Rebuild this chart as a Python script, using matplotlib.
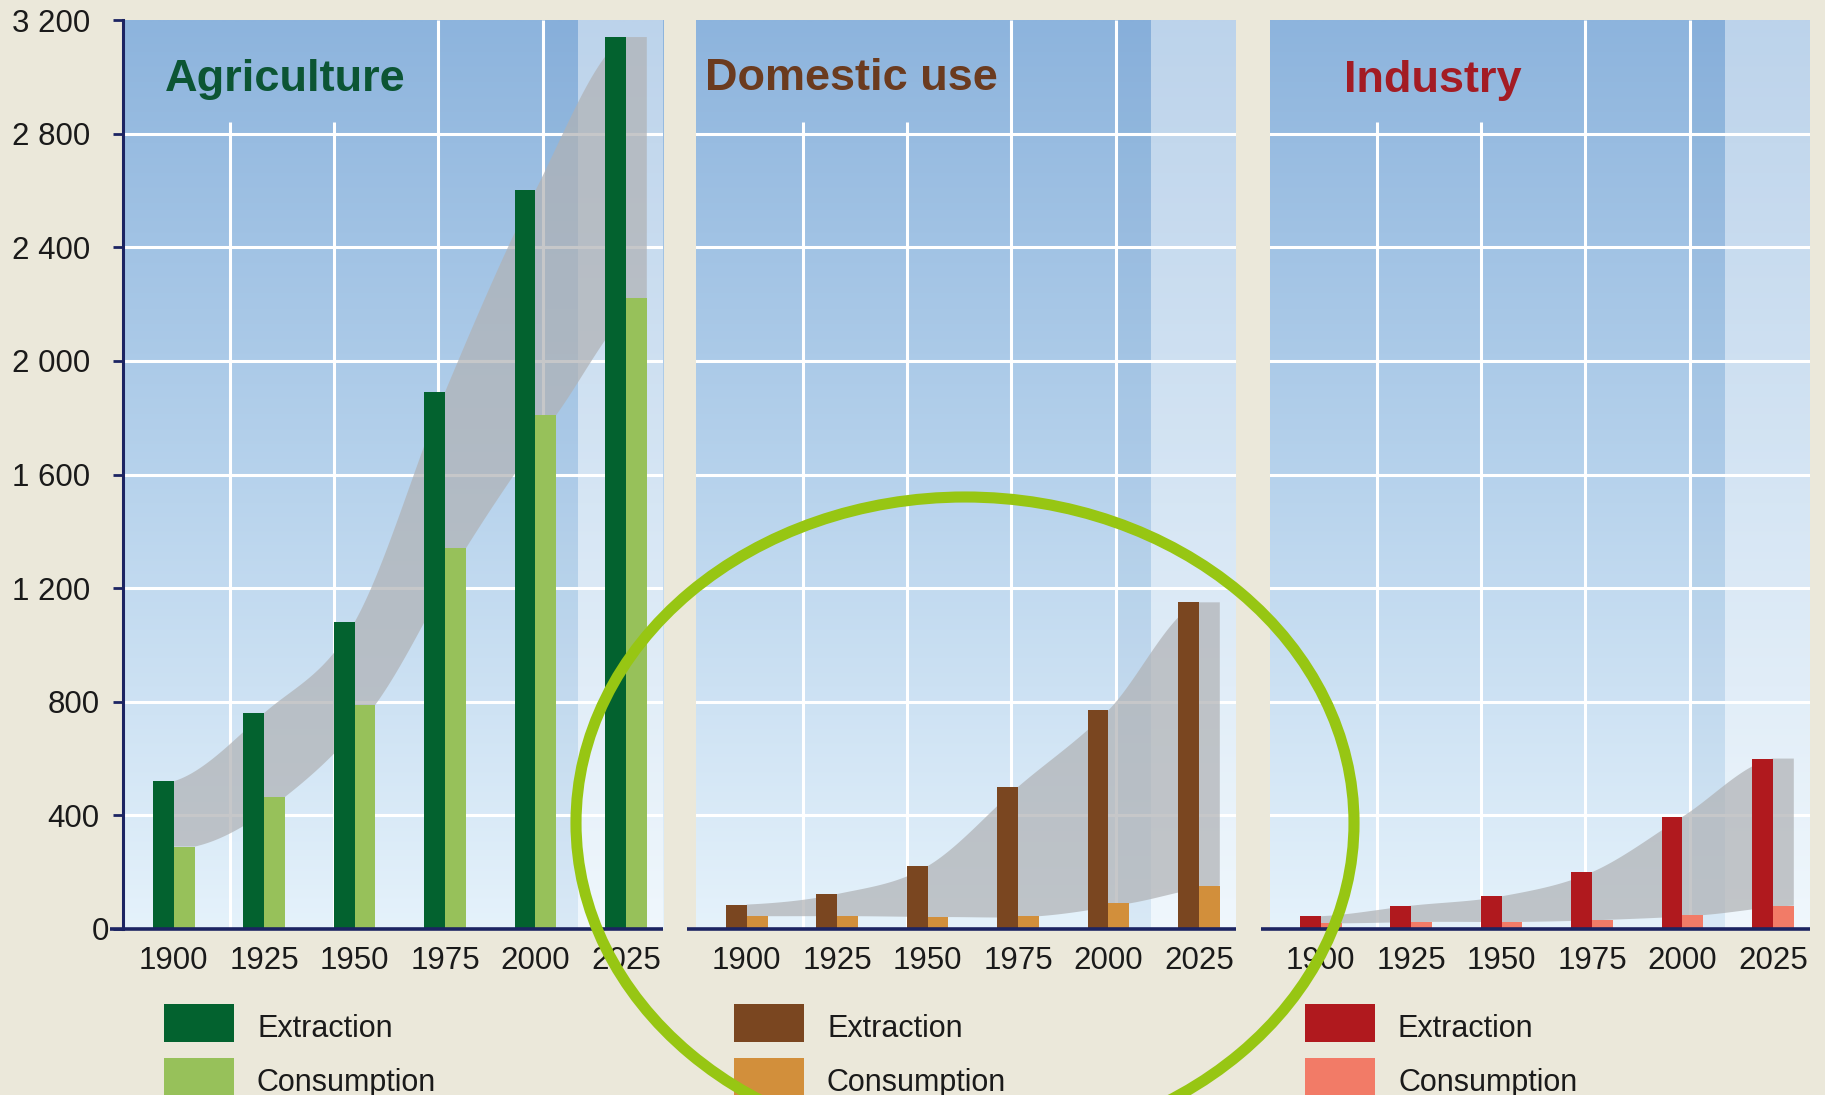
import numpy as np
import matplotlib.pyplot as plt
import matplotlib.transforms as mtransforms
from matplotlib.patches import Rectangle, Ellipse

plt.rcParams['font.family'] = ['Liberation Sans', 'DejaVu Sans']

years = ['1900', '1925', '1950', '1975', '2000', '2025']

agri_extraction = [520, 760, 1080, 1890, 2600, 3140]
agri_consumption = [290, 465, 790, 1340, 1810, 2220]
dom_extraction = [86, 123, 221, 500, 770, 1150]
dom_consumption = [45, 45, 42, 45, 90, 152]
ind_extraction = [45, 82, 115, 200, 395, 600]
ind_consumption = [20, 25, 25, 33, 49, 82]

panel_titles = ['Agriculture', 'Domestic use', 'Industry']
legend_labels = ['Extraction', 'Consumption']

W, H = 1825, 1095
NAVY = '#1c2462'
BAR_W = 0.231
XMIN, XMAX = -0.56, 5.41
YMAX = 3200


def fx(px):
    return px / W


def fy(py):
    return 1 - py / H


def smooth_edge(xk, yk, n=300):
    # Catmull-Rom style curve through the bar tops, eased at both ends
    xk = np.asarray(xk, float)
    yk = np.asarray(yk, float)
    h = np.diff(xk)
    d = np.diff(yk) / h
    m = np.zeros_like(yk)
    m[1:-1] = (yk[2:] - yk[:-2]) / (xk[2:] - xk[:-2])
    m[0] = 0.4 * d[0]
    m[-1] = 0.3 * d[-1]
    xs = np.linspace(xk[0], xk[-1], n)
    idx = np.clip(np.searchsorted(xk, xs) - 1, 0, len(h) - 1)
    t = (xs - xk[idx]) / h[idx]
    h00 = 2 * t**3 - 3 * t**2 + 1
    h10 = t**3 - 2 * t**2 + t
    h01 = -2 * t**3 + 3 * t**2
    h11 = t**3 - t**2
    ys = h00 * yk[idx] + h10 * h[idx] * m[idx] + h01 * yk[idx + 1] + h11 * h[idx] * m[idx + 1]
    return xs, ys


def background(ax):
    t = np.linspace(0, 1, 256)
    stops = [0, 0.5, 1]
    bottom_c = (229, 242, 251)
    mid_c = (182, 210, 236)
    top_c = (141, 180, 221)
    grad = np.zeros((256, 1, 3))
    for c in range(3):
        grad[:, 0, c] = np.interp(t, stops, [bottom_c[c], mid_c[c], top_c[c]]) / 255
    ax.imshow(grad, origin='lower', extent=(XMIN, XMAX, 0, YMAX), aspect='auto',
              interpolation='bilinear', zorder=0)
    ax.axvspan(4.08, 4.47, color='#3f78b5', alpha=0.07, lw=0, zorder=0.5)
    ax.axvspan(4.47, XMAX, color='white', alpha=0.42, lw=0, zorder=0.6)

    for v in range(400, YMAX, 400):
        ax.axhline(v, color='white', lw=2.2, zorder=1)
    for k, gx in enumerate([0.62, 1.77, 2.92, 4.08]):
        top = 2840 if k < 2 else YMAX
        ax.vlines(gx, 0, top, color='white', lw=2.2, zorder=1)


def draw_panel(ax, extraction, consumption, title, ext_color, con_color, title_color,
               title_dx, title_base, first):
    x = np.arange(len(years))
    background(ax)

    # grey ribbon linking extraction and consumption
    ux, uy = smooth_edge(x, extraction)
    lx, ly = smooth_edge(x + BAR_W, consumption)
    poly_x = np.concatenate([[0, 0], ux, [x[-1] + BAR_W], lx[::-1]])
    poly_y = np.concatenate([[consumption[0]], uy[:1], uy, [extraction[-1]], ly[::-1]])
    ax.fill(poly_x, poly_y, color='#b0b2b5', alpha=0.72, lw=0, zorder=2)

    ax.bar(x - BAR_W, extraction, BAR_W, align='edge', color=ext_color, lw=0, zorder=3)
    ax.bar(x, consumption, BAR_W, align='edge', color=con_color, lw=0, zorder=3)

    ax.set_xlim(XMIN, XMAX)
    ax.set_ylim(0, YMAX)
    ax.set_xticks(x, years)
    ax.tick_params(axis='x', length=0, pad=12.5, labelsize=22.5, labelcolor='#1a1a1a')
    for s in ax.spines.values():
        s.set_visible(False)

    if first:
        ticks = list(range(0, YMAX + 1, 400))
        ax.set_yticks(ticks, [f'{v:,}'.replace(',', ' ') for v in ticks])
        ax.tick_params(axis='y', length=7, width=2, color=NAVY, pad=16.5,
                       labelsize=22.5, labelcolor='#1a1a1a')
        # shorter labels sit a little closer to the axis
        for lab in ax.get_yticklabels():
            dx = {1: 19, 3: 9}.get(len(lab.get_text()), 0)
            lab.set_transform(lab.get_transform()
                              + mtransforms.ScaledTranslation(dx / 100, 0, fig.dpi_scale_trans))
        ax.spines['left'].set_visible(True)
        ax.spines['left'].set_color(NAVY)
        ax.spines['left'].set_linewidth(2.2)
        ax.spines['left'].set_zorder(5)
        start = -0.024
    else:
        ax.set_yticks([])
        start = -0.017
    ax.plot([start, 1], [0, 0], transform=ax.transAxes, clip_on=False,
            color=NAVY, lw=2.6, zorder=5, solid_capstyle='butt')

    ax.text(title_dx / 540, 1 - (title_base - 20) / 909, title, transform=ax.transAxes,
            fontsize=32.5, fontweight='bold', color=title_color, ha='left', va='baseline',
            zorder=6)


fig = plt.figure(figsize=(W / 100, H / 100), dpi=100, facecolor='#ebe8da')

panels = [
    (agri_extraction, agri_consumption, '#03622f', '#97c15a', '#0c5534', 42, 91),
    (dom_extraction, dom_consumption, '#7a4620', '#d28f3b', '#6b3b1f', 9, 90),
    (ind_extraction, ind_consumption, '#b0191e', '#f27b67', '#a31c24', 74, 92),
]
panel_left = [123, 696, 1270]
legend_left = [164, 734, 1305]

for i, (ext, con, ec, cc, tc, tdx, tbase) in enumerate(panels):
    ax = fig.add_axes([fx(panel_left[i]), fy(929), 540 / W, (929 - 20) / H])
    draw_panel(ax, ext, con, panel_titles[i], ec, cc, tc, tdx, tbase, i == 0)

    for j, (label, col) in enumerate(zip(legend_labels, [ec, cc])):
        top = 1004 + 54 * j
        fig.add_artist(Rectangle((fx(legend_left[i]), fy(top + 38)), 70 / W, 38 / H,
                                 transform=fig.transFigure, color=col, lw=0))
        fig.text(fx(legend_left[i] + 93), fy(top + 33), label, fontsize=22,
                 color='#1a1a1a', ha='left', va='baseline')

fig.add_artist(Ellipse((fx(965), fy(823)), 778 / W, 652 / H, transform=fig.transFigure,
                       fill=False, ec='#97c613', lw=8, zorder=10))

fig.savefig('out.png', dpi=100, facecolor=fig.get_facecolor())
